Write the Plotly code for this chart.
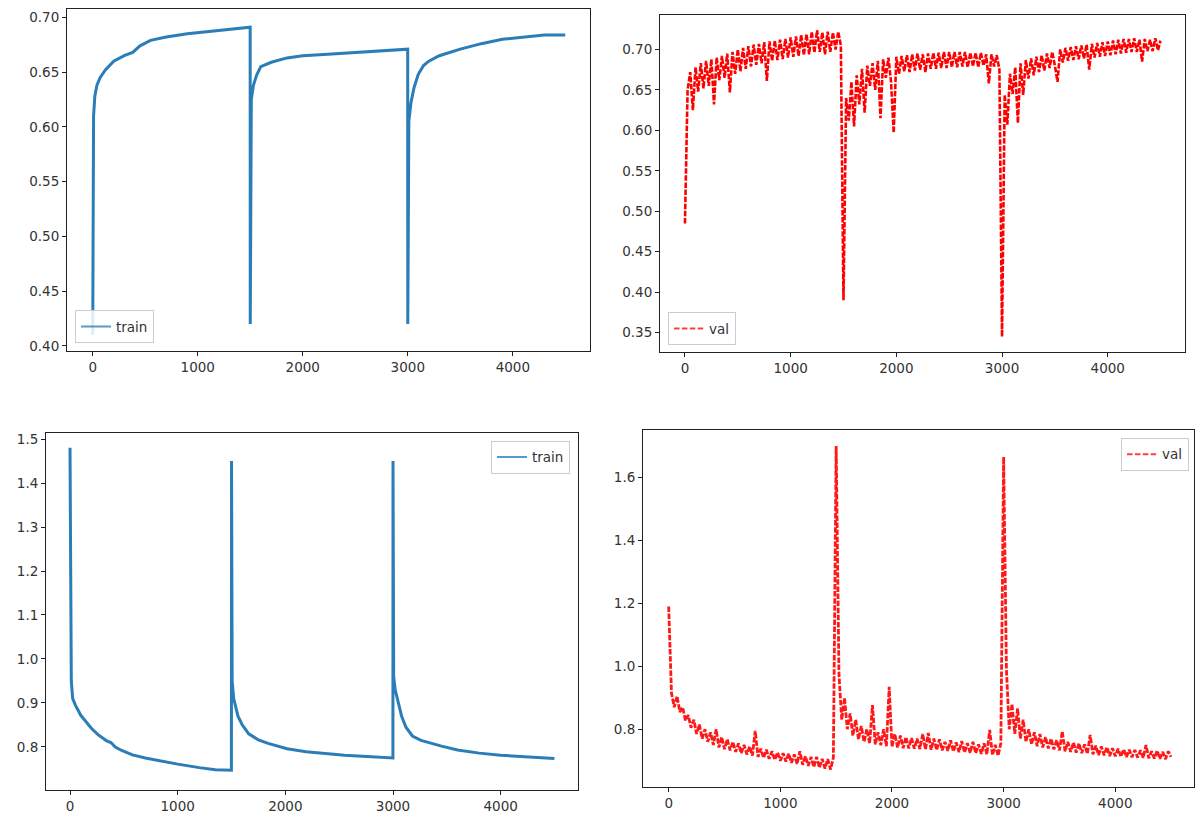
import numpy as np
import plotly.graph_objects as go

W, H = 1199, 819

# ---------------- data ----------------
# train accuracy
train_acc_x = [0, 3, 8, 20, 40, 70, 120, 200, 300, 380, 450, 550, 700, 900, 1100, 1300, 1499,
               1500, 1503, 1510, 1530, 1560, 1600, 1700, 1850, 2000, 2200, 2500, 2800, 2999,
               3000, 3003, 3010, 3030, 3060, 3100, 3150, 3200, 3300, 3500, 3700, 3900, 4100, 4300, 4499]
train_acc_y = [0.410, 0.550, 0.610, 0.628, 0.638, 0.645, 0.652, 0.660, 0.665, 0.668, 0.674, 0.679,
               0.682, 0.685, 0.687, 0.689, 0.691,
               0.420, 0.550, 0.625, 0.638, 0.647, 0.655, 0.659, 0.663, 0.665, 0.666, 0.668, 0.670, 0.671,
               0.420, 0.550, 0.605, 0.622, 0.636, 0.648, 0.656, 0.660, 0.665, 0.671, 0.676, 0.680,
               0.682, 0.684, 0.684]

# train loss
train_loss_x = [0, 2, 4, 7, 12, 25, 50, 100, 150, 200, 260, 340, 380, 420, 480, 580, 700, 800,
                1000, 1200, 1350, 1499,
                1500, 1503, 1506, 1520, 1560, 1600, 1660, 1750, 1840, 2016, 2193, 2549, 2999,
                3000, 3003, 3006, 3020, 3050, 3080, 3120, 3180, 3260, 3350, 3450, 3600, 3800,
                4000, 4200, 4499]
train_loss_y = [1.480, 1.300, 1.120, 0.990, 0.950, 0.910, 0.895, 0.872, 0.857, 0.842, 0.828,
                0.814, 0.810, 0.800, 0.792, 0.782, 0.775, 0.770, 0.761, 0.753, 0.748, 0.747,
                1.450, 1.200, 0.950, 0.910, 0.870, 0.850, 0.830, 0.816, 0.808, 0.796, 0.789,
                0.781, 0.775,
                1.450, 1.200, 0.960, 0.930, 0.900, 0.870, 0.845, 0.825, 0.815, 0.808, 0.802,
                0.793, 0.786, 0.781, 0.778, 0.774]

# validation series sampled every 25 iterations (plus last point 4499)
val_x = list(range(0, 4500, 25)) + [4499]

val_acc = [
    # cycle 1 (0..1475)
    0.485, 0.650, 0.672, 0.625, 0.678, 0.648, 0.683, 0.652, 0.686, 0.655,
    0.688, 0.632, 0.690, 0.662, 0.692, 0.665, 0.695, 0.647, 0.697, 0.670,
    0.700, 0.673, 0.702, 0.676, 0.704, 0.679, 0.706, 0.681, 0.707, 0.683,
    0.709, 0.661, 0.710, 0.686, 0.711, 0.687, 0.712, 0.688, 0.713, 0.690,
    0.715, 0.691, 0.716, 0.692, 0.718, 0.693, 0.719, 0.694, 0.722, 0.696,
    0.724, 0.697, 0.721, 0.694, 0.722, 0.697, 0.721, 0.700, 0.722, 0.705,
    # cycle 2 (1500..2975)
    0.390, 0.640, 0.612, 0.660, 0.605, 0.668, 0.632, 0.676, 0.622, 0.680,
    0.655, 0.683, 0.650, 0.686, 0.615, 0.688, 0.665, 0.690, 0.660, 0.597,
    0.691, 0.670, 0.692, 0.673, 0.693, 0.672, 0.694, 0.674, 0.695, 0.675,
    0.694, 0.672, 0.695, 0.676, 0.696, 0.676, 0.696, 0.677, 0.697, 0.677,
    0.697, 0.678, 0.697, 0.678, 0.697, 0.679, 0.697, 0.678, 0.696, 0.679,
    0.696, 0.678, 0.696, 0.680, 0.694, 0.658, 0.694, 0.679, 0.693, 0.675,
    # cycle 3 (3000..4475) + 4499
    0.345, 0.644, 0.607, 0.670, 0.645, 0.678, 0.609, 0.683, 0.644, 0.687,
    0.664, 0.689, 0.668, 0.691, 0.672, 0.693, 0.674, 0.695, 0.677, 0.697,
    0.680, 0.660, 0.700, 0.684, 0.702, 0.686, 0.703, 0.687, 0.704, 0.688,
    0.705, 0.689, 0.706, 0.675, 0.707, 0.690, 0.708, 0.691, 0.709, 0.692,
    0.710, 0.693, 0.711, 0.694, 0.712, 0.695, 0.713, 0.696, 0.713, 0.697,
    0.714, 0.697, 0.712, 0.685, 0.713, 0.698, 0.712, 0.698, 0.714, 0.699,
    0.711,
]

val_loss = [
    # cycle 1
    1.190, 0.915, 0.870, 0.905, 0.855, 0.870, 0.828, 0.845, 0.805, 0.830,
    0.785, 0.815, 0.770, 0.800, 0.760, 0.790, 0.750, 0.800, 0.742, 0.775,
    0.737, 0.768, 0.733, 0.760, 0.728, 0.755, 0.724, 0.750, 0.720, 0.745,
    0.716, 0.795, 0.712, 0.738, 0.709, 0.735, 0.706, 0.730, 0.703, 0.726,
    0.700, 0.724, 0.697, 0.722, 0.693, 0.720, 0.690, 0.730, 0.687, 0.714,
    0.684, 0.712, 0.680, 0.712, 0.678, 0.706, 0.675, 0.705, 0.672, 0.710,
    # cycle 2
    1.700, 0.975, 0.830, 0.900, 0.800, 0.850, 0.780, 0.830, 0.768, 0.810,
    0.760, 0.800, 0.755, 0.877, 0.752, 0.790, 0.749, 0.800, 0.746, 0.935,
    0.744, 0.785, 0.742, 0.780, 0.740, 0.775, 0.739, 0.772, 0.738, 0.770,
    0.737, 0.785, 0.736, 0.788, 0.735, 0.770, 0.734, 0.768, 0.733, 0.760,
    0.731, 0.765, 0.729, 0.758, 0.727, 0.762, 0.726, 0.756, 0.725, 0.760,
    0.724, 0.752, 0.722, 0.755, 0.720, 0.798, 0.718, 0.750, 0.716, 0.755,
    # cycle 3
    1.665, 0.990, 0.800, 0.880, 0.785, 0.866, 0.770, 0.830, 0.760, 0.800,
    0.752, 0.790, 0.746, 0.785, 0.742, 0.775, 0.739, 0.770, 0.736, 0.765,
    0.733, 0.793, 0.730, 0.760, 0.728, 0.758, 0.726, 0.755, 0.724, 0.752,
    0.722, 0.782, 0.720, 0.748, 0.718, 0.745, 0.717, 0.743, 0.715, 0.740,
    0.714, 0.738, 0.713, 0.736, 0.712, 0.735, 0.711, 0.734, 0.710, 0.733,
    0.709, 0.750, 0.708, 0.730, 0.707, 0.732, 0.706, 0.728, 0.705, 0.730,
    0.712,
]

x_ticks = [0, 1000, 2000, 3000, 4000]
acc_train_ticks = [0.40, 0.45, 0.50, 0.55, 0.60, 0.65, 0.70]
acc_val_ticks = [0.35, 0.40, 0.45, 0.50, 0.55, 0.60, 0.65, 0.70]
loss_train_ticks = [0.8, 0.9, 1.0, 1.1, 1.2, 1.3, 1.4, 1.5]
loss_val_ticks = [0.8, 1.0, 1.2, 1.4, 1.6]

# ---------------- layout (pixel boxes) ----------------
def dom(left, right, top, bottom):
    return [left / W, right / W], [1 - bottom / H, 1 - top / H]

boxes = {
    1: dom(67, 590, 7, 351),
    2: dom(660, 1185, 13, 352),
    3: dom(46, 578, 433, 791.5),
    4: dom(643, 1194, 430, 789),
}
xranges = {1: [-245, 4735], 2: [-236, 4731], 3: [-223, 4718], 4: [-230, 4705]}
yranges = {1: [0.395, 0.7077], 2: [0.3257, 0.7427], 3: [0.703, 1.514], 4: [0.616, 1.751]}
yticks = {1: (acc_train_ticks, ".2f"), 2: (acc_val_ticks, ".2f"),
          3: (loss_train_ticks, ".1f"), 4: (loss_val_ticks, ".1f")}

BLUE = "#1f77b4"
RED = "#ff0000"
FONT = "DejaVu Sans"

fig = go.Figure()

# data traces (legend hidden)
fig.add_trace(go.Scatter(x=train_acc_x, y=train_acc_y, mode="lines", name="train",
                         line=dict(color=BLUE, width=3), opacity=0.95, showlegend=False,
                         xaxis="x", yaxis="y"))
fig.add_trace(go.Scatter(x=val_x, y=val_acc, mode="lines", name="val",
                         line=dict(color=RED, width=2.6, dash="5.5px,1.6px"), opacity=1.0,
                         showlegend=False, xaxis="x2", yaxis="y2"))
fig.add_trace(go.Scatter(x=train_loss_x, y=train_loss_y, mode="lines", name="train",
                         line=dict(color=BLUE, width=3), opacity=0.95, showlegend=False,
                         xaxis="x3", yaxis="y3"))
fig.add_trace(go.Scatter(x=val_x, y=val_loss, mode="lines", name="val",
                         line=dict(color=RED, width=2.8, dash="5.5px,1.6px"), opacity=0.9,
                         showlegend=False, xaxis="x4", yaxis="y4"))

# legend entries (styled like the thin legend handles of the original)
legend_specs = [("train", BLUE, "solid", "x", "y", "legend"),
                ("val", RED, "5.5px,2.4px", "x2", "y2", "legend2"),
                ("train", BLUE, "solid", "x3", "y3", "legend3"),
                ("val", RED, "5.5px,2.4px", "x4", "y4", "legend4")]
for name, col, dash, xa, ya, lg in legend_specs:
    fig.add_trace(go.Scatter(x=[None], y=[None], mode="lines", name=name,
                             line=dict(color=col, width=2, dash=dash), opacity=0.75,
                             xaxis=xa, yaxis=ya, legend=lg, showlegend=True))

axis_common = dict(showline=True, linecolor="#222", linewidth=1, mirror=True,
                   ticks="outside", ticklen=4, tickcolor="#222", tickwidth=1,
                   showgrid=False, zeroline=False,
                   tickfont=dict(family=FONT, size=13.5, color="#333"))

layout = dict(width=W, height=H, margin=dict(l=0, r=0, t=0, b=0),
              paper_bgcolor="white", plot_bgcolor="white", showlegend=True)

for i in range(1, 5):
    xd, yd = boxes[i]
    xs = "" if i == 1 else str(i)
    tv, fmt = yticks[i]
    layout["xaxis" + xs] = dict(domain=xd, range=xranges[i], anchor="y" + xs,
                                tickvals=x_ticks, ticktext=[str(t) for t in x_ticks], **axis_common)
    layout["yaxis" + xs] = dict(domain=yd, range=yranges[i], anchor="x" + xs,
                                tickvals=tv, tickformat=fmt, **axis_common)

leg_common = dict(bgcolor="rgba(255,255,255,0.85)", bordercolor="#cccccc", borderwidth=1,
                  font=dict(family=FONT, size=13.5, color="#333"), itemwidth=30,
                  tracegroupgap=0)
layout["legend"] = dict(x=75 / W, y=1 - 343 / H, xanchor="left", yanchor="bottom", **leg_common)
layout["legend2"] = dict(x=668 / W, y=1 - 345 / H, xanchor="left", yanchor="bottom", **leg_common)
layout["legend3"] = dict(x=570 / W, y=1 - 441 / H, xanchor="right", yanchor="top", **leg_common)
layout["legend4"] = dict(x=1189 / W, y=1 - 438 / H, xanchor="right", yanchor="top", **leg_common)

fig.update_layout(**layout)
fig.write_html("out.html")
